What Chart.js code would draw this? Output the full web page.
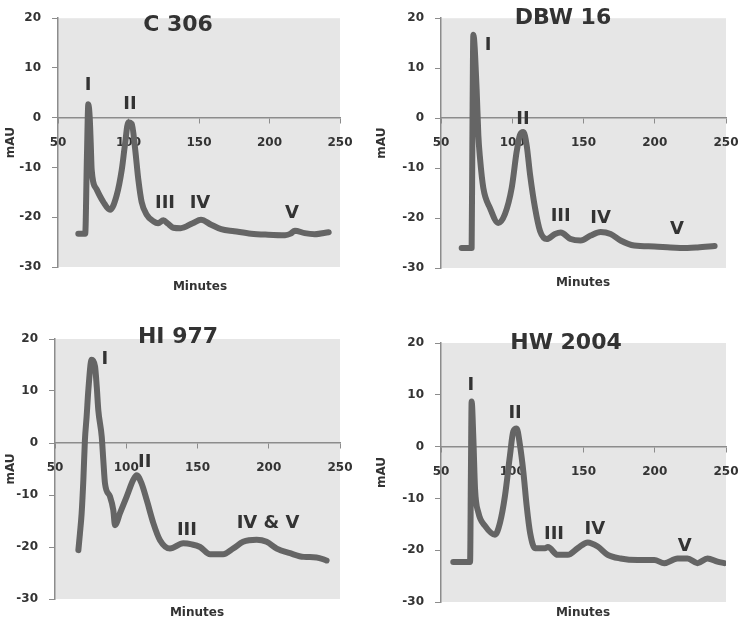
<!DOCTYPE html>
<html lang="en">
<head>
<meta charset="UTF-8">
<title>Chromatograms</title>
<script src="https://cdn.jsdelivr.net/npm/chart.js"></script>
<style>
    body {
        margin: 0;
        background: #ffffff;
    }

    .wrap {
        position: relative;
        width: 742px;
        height: 622px;
    }

    .wrap canvas {
        position: absolute;
    }
</style>
</head>
<body>
<div class="wrap">
    <canvas id="c306" width="371" height="300" style="left:0;top:0"></canvas>
    <canvas id="dbw16" width="371" height="300" style="left:371px;top:0"></canvas>
    <canvas id="hi977" width="371" height="322" style="left:0;top:300px"></canvas>
    <canvas id="hw2004" width="371" height="322" style="left:371px;top:300px"></canvas>
</div>

<script>
    // axis ticks shared by all four panels
    const minuteTicks = [50, 100, 150, 200, 250];
    const mauTicks = [-30, -20, -10, 0, 10, 20];

    // C 306
    const c306Min = [64.4, 69.3, 70.5, 71.5, 72.5, 73.2, 73.9, 77.4, 82.1, 86.9, 91.6, 95.2, 97.5, 99.9, 102.3, 104.6, 107, 109.3, 112.9, 117.6, 121, 124.7, 128, 131.8, 137, 145.5, 151.4, 158.6, 165.7, 175, 187, 199, 211, 215, 218, 225, 232, 242];
    const c306Mau = [-23.3, -23.3, -8, 2.7, 0, -5, -10.5, -14.4, -16.9, -18.5, -15.6, -10.5, -5.4, -0.9, -1.2, -6, -12.5, -16.9, -19.5, -20.8, -21.2, -20.6, -21.3, -22.1, -22.2, -21.2, -20.5, -21.5, -22.4, -22.8, -23.3, -23.5, -23.6, -23.3, -22.7, -23.2, -23.4, -23];
    const c306PeakText = ['I', 'II', 'III', 'IV', 'V'];
    const c306PeakMin = [71.3, 101, 125.9, 150.7, 216];
    const c306PeakMau = [6.5, 2.7, -17.3, -17.3, -19.2];

    // DBW 16
    const dbw16Min = [64.5, 71.5, 72, 72.7, 75, 76.2, 77.4, 79.7, 84.4, 90.2, 94.9, 99.6, 103.1, 105.4, 107.8, 110.1, 112.5, 116, 119.5, 124.2, 130, 134, 141, 148, 155, 162, 169, 176, 185.6, 199.7, 211, 223, 230, 242];
    const dbw16Mau = [-26, -26, -5, 16.7, 5.8, -3.4, -8.1, -14, -18, -21, -19.2, -14, -6.7, -3.4, -2.8, -5.4, -11.3, -18, -22.6, -24.2, -23.2, -22.9, -24.2, -24.5, -23.5, -22.8, -23.2, -24.5, -25.5, -25.7, -25.9, -26, -25.9, -25.6];
    const dbw16PeakText = ['I', 'II', 'III', 'IV', 'V'];
    const dbw16PeakMin = [83, 107.5, 134, 162, 215.6];
    const dbw16PeakMau = [14.5, -0.2, -19.6, -20, -22.2];

    // HI 977
    const hi977Min = [66.4, 67.5, 68.7, 69.9, 71, 72.2, 73.4, 75.7, 78.1, 79.3, 80.4, 82.8, 83.9, 85.1, 88.6, 90.9, 92.1, 95.6, 100.3, 104.9, 107.3, 110.8, 114.4, 119, 123.7, 130.7, 140, 146, 151.8, 158.8, 168, 175, 182, 191.5, 198.5, 205.6, 215, 224.6, 233.6, 240.6];
    const hi977Mau = [-20.6, -17.4, -13.5, -7.1, 0.6, 5.1, 10.2, 16, 14.7, 10.8, 6.3, 1.2, -3.3, -7.8, -10.3, -12.9, -15.8, -13.5, -10.3, -7.1, -6.2, -7.8, -11, -15.4, -18.7, -20.3, -19.3, -19.5, -20, -21.4, -21.4, -20.3, -19, -18.6, -19, -20.3, -21.2, -21.9, -22, -22.6];
    const hi977PeakText = ['I', 'II', 'III', 'IV & V'];
    const hi977PeakMin = [85, 113, 142.6, 199.5];
    const hi977PeakMau = [16, -3.8, -16.7, -15.4];

    // HW 2004
    const hw2004Min = [58.6, 70.4, 71, 71.5, 72.7, 73.9, 76.2, 80.9, 87.9, 91.4, 94.9, 98.4, 100.7, 103.1, 105.4, 107.8, 110.1, 112.5, 116, 123, 125, 131.9, 139, 146, 153, 160, 167, 176, 188, 199.7, 206.7, 216, 223, 230, 237, 244, 248.8];
    const hw2004Mau = [-22.3, -22.3, -5, 8.7, 1.6, -8.2, -12.7, -15.3, -17, -14.7, -9.5, -1.7, 2.9, 3.5, 0.3, -4.9, -11.4, -16.6, -19.6, -19.6, -19.4, -20.9, -20.9, -19.6, -18.5, -19.3, -20.9, -21.6, -21.9, -21.9, -22.5, -21.6, -21.6, -22.5, -21.6, -22.2, -22.5];
    const hw2004PeakText = ['I', 'II', 'III', 'IV', 'V'];
    const hw2004PeakMin = [71, 102, 129.3, 158, 221];
    const hw2004PeakMau = [11.9, 6.4, -17, -16, -19.3];

    const FONT = '"DejaVu Sans", sans-serif';
    const TEXT = '#333333';
    const AXIS = '#8c8c8c';

    // grey plot area behind the trace
    const plotBackground = {
        id: 'plotBackground',
        beforeDraw(chart) {
            const { ctx, chartArea: a } = chart;
            ctx.save();
            ctx.fillStyle = '#e6e6e6';
            ctx.fillRect(a.left, a.top, a.width, a.height);
            ctx.restore();
        }
    };

    // sample name, "Minutes" caption and the peak numbering
    const panelText = {
        id: 'panelText',
        afterDraw(chart, args, opts) {
            const { ctx, chartArea: a, scales } = chart;
            ctx.save();
            ctx.fillStyle = TEXT;
            ctx.textAlign = 'center';
            ctx.textBaseline = 'middle';

            ctx.font = 'bold 22px ' + FONT;
            ctx.fillText(opts.title, a.left + opts.titleDx, a.top + opts.titleDy);

            ctx.font = 'bold 12px ' + FONT;
            ctx.fillText('Minutes', a.left + 142, a.bottom + opts.minutesDy);

            ctx.font = 'bold 18px ' + FONT;
            opts.peakText.forEach((t, i) => {
                ctx.fillText(t, scales.x.getPixelForValue(opts.peakMin[i]), scales.y.getPixelForValue(opts.peakMau[i]));
            });
            ctx.restore();
        }
    };

    function makePanel(id, title, mins, maus, peakText, peakMin, peakMau, box) {
        const points = mins.map((m, i) => ({ x: m, y: maus[i] }));
        new Chart(document.getElementById(id), {
            type: 'line',
            data: {
                datasets: [{
                    data: points,
                    borderColor: '#656565',
                    borderWidth: 6,
                    pointRadius: 0,
                    cubicInterpolationMode: 'monotone',
                    borderJoinStyle: 'round',
                    borderCapStyle: 'round'
                }]
            },
            options: {
                responsive: false,
                animation: false,
                layout: {
                    padding: { top: box.top, right: box.right, bottom: box.bottom, left: 0 }
                },
                scales: {
                    x: {
                        type: 'linear',
                        position: { y: 0 },
                        min: 50,
                        max: 250,
                        afterBuildTicks: s => { s.ticks = minuteTicks.map(v => ({ value: v })); },
                        // keep the end labels from pushing the plot area inwards
                        afterFit: s => { s.paddingLeft = 0; s.paddingRight = 0; },
                        grid: { drawOnChartArea: false, drawTicks: true, tickLength: 5, color: AXIS },
                        border: { display: true, color: AXIS, width: 1.5 },
                        ticks: { padding: 13, color: TEXT, font: { family: FONT, size: 12, weight: 'bold' } }
                    },
                    y: {
                        min: -30,
                        max: 20,
                        afterBuildTicks: s => { s.ticks = mauTicks.map(v => ({ value: v })); },
                        afterFit: s => { s.width = box.left; },
                        grid: { drawOnChartArea: false, drawTicks: true, tickLength: 6, color: AXIS },
                        border: { display: true, color: AXIS, width: 1.5 },
                        ticks: { padding: 11, color: TEXT, font: { family: FONT, size: 12, weight: 'bold' } },
                        title: {
                            display: true,
                            text: 'mAU',
                            color: TEXT,
                            padding: { top: 4, bottom: 0 },
                            font: { family: FONT, size: 12, weight: 'bold' }
                        }
                    }
                },
                plugins: {
                    legend: { display: false },
                    tooltip: { enabled: false },
                    panelText: {
                        title: title,
                        titleDx: box.titleDx,
                        titleDy: box.titleDy,
                        minutesDy: box.minutesDy,
                        peakText: peakText,
                        peakMin: peakMin,
                        peakMau: peakMau
                    }
                }
            },
            plugins: [plotBackground, panelText]
        });
    }

    makePanel('c306', 'C 306', c306Min, c306Mau, c306PeakText, c306PeakMin, c306PeakMau,
        { left: 58, top: 8, right: 31, bottom: 33, titleDx: 120, titleDy: 7, minutesDy: 20 });
    makePanel('dbw16', 'DBW 16', dbw16Min, dbw16Mau, dbw16PeakText, dbw16PeakMin, dbw16PeakMau,
        { left: 70, top: 15, right: 16, bottom: 32, titleDx: 122, titleDy: 0, minutesDy: 15 });
    makePanel('hi977', 'HI 977', hi977Min, hi977Mau, hi977PeakText, hi977PeakMin, hi977PeakMau,
        { left: 55, top: 39, right: 31, bottom: 23, titleDx: 123, titleDy: -2, minutesDy: 14 });
    makePanel('hw2004', 'HW 2004', hw2004Min, hw2004Mau, hw2004PeakText, hw2004PeakMin, hw2004PeakMau,
        { left: 70, top: 43, right: 16, bottom: 20, titleDx: 125, titleDy: 0, minutesDy: 11 });
</script>
</body>
</html>
